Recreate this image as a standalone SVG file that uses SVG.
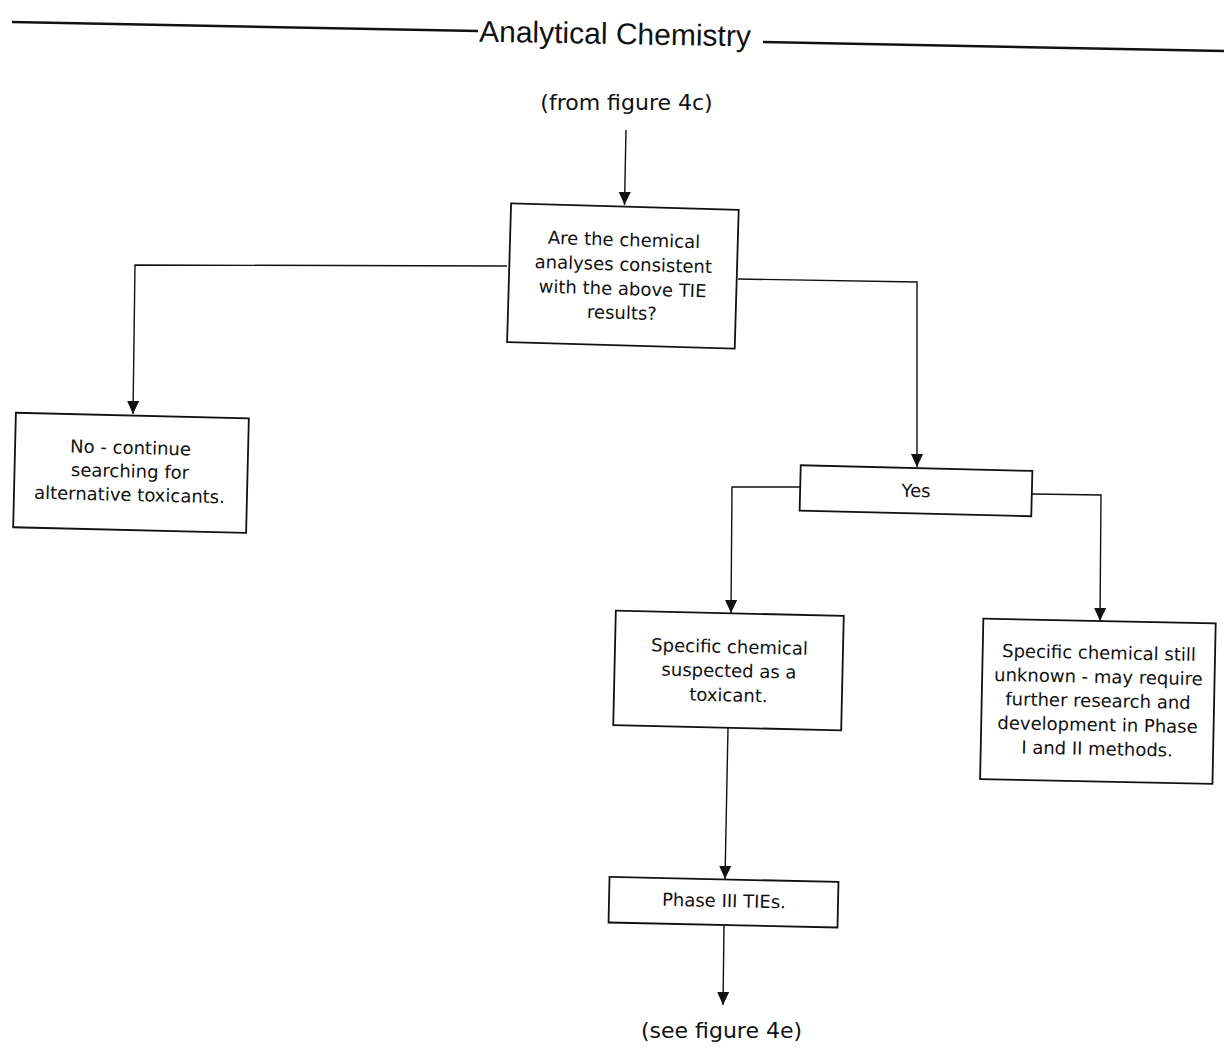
<svg xmlns="http://www.w3.org/2000/svg" width="1224" height="1057" viewBox="0 0 1224 1057">
  <style>
    .box { fill: #ffffff; stroke: #111111; stroke-width: 1.8; }
    .lbl { font-family: "DejaVu Sans", "Liberation Sans", sans-serif; font-size: 18px; fill: #111111; text-anchor: middle; }
    .ref { font-family: "DejaVu Sans", "Liberation Sans", sans-serif; font-size: 22px; fill: #111111; text-anchor: middle; }
    .conn { fill: none; stroke: #111111; stroke-width: 1.4; marker-end: url(#arrow); }
    .rule { stroke: #111111; stroke-width: 2.5; }
  </style>
  <defs>
    <marker id="arrow" markerUnits="userSpaceOnUse" markerWidth="13" markerHeight="15" refX="14" refY="6.5" orient="auto" viewBox="0 0 14 13">
      <path d="M0,0 L14,6.5 L0,13 z" fill="#111111"/>
    </marker>
  </defs>
  <rect width="1224" height="1057" fill="#ffffff"/>

  <g id="header">
    <line class="rule" x1="12" y1="22" x2="478" y2="31"/>
    <line class="rule" x1="763" y1="42" x2="1224" y2="51"/>
    <text x="615" y="44" transform="rotate(1 615 35)" font-family="Liberation Sans, Arial, sans-serif" font-size="30" fill="#111111" text-anchor="middle">Analytical Chemistry</text>
  </g>

  <g id="from-figure-4c">
    <text class="ref" x="626.5" y="110">(from figure 4c)</text>
  </g>

  <g id="connectors">
    <polyline class="conn" points="626,130 624.5,205"/>
    <polyline class="conn" points="507,266 135,265 133,414"/>
    <polyline class="conn" points="738,279 917,282 917,467"/>
    <polyline class="conn" points="800,487 732,487 731,613"/>
    <polyline class="conn" points="1032,494 1101,495 1100,621"/>
    <polyline class="conn" points="728,728 725,879"/>
    <polyline class="conn" points="724,925 723,1005"/>
  </g>

  <g id="question" transform="rotate(1.65 622.9 276)">
    <rect class="box" x="509.05" y="206.65" width="227.7" height="138.7"/>
    <text class="lbl" x="623" y="246">Are the chemical</text>
    <text class="lbl" x="623" y="270.5">analyses consistent</text>
    <text class="lbl" x="623" y="295">with the above TIE</text>
    <text class="lbl" x="623" y="319">results?</text>
  </g>

  <g id="no" transform="rotate(1.37 131 472.8)">
    <rect class="box" x="14.5" y="415.55" width="233" height="114.5"/>
    <text class="lbl" x="130" y="454">No - continue</text>
    <text class="lbl" x="130" y="477.5">searching for</text>
    <text class="lbl" x="130" y="501">alternative toxicants.</text>
  </g>

  <g id="yes" transform="rotate(1.4 916 490.75)">
    <rect class="box" x="800.15" y="468.1" width="231.7" height="45.3"/>
    <text class="lbl" x="916" y="497">Yes</text>
  </g>

  <g id="suspected" transform="rotate(1.3 728.5 670.5)">
    <rect class="box" x="614.5" y="613.25" width="228" height="114.5"/>
    <text class="lbl" x="729" y="653">Specific chemical</text>
    <text class="lbl" x="729" y="677">suspected as a</text>
    <text class="lbl" x="729" y="701.5">toxicant.</text>
  </g>

  <g id="unknown" transform="rotate(1.16 1097.9 701.25)">
    <rect class="box" x="981.7" y="620.95" width="232.4" height="160.6"/>
    <text class="lbl" x="1098" y="659">Specific chemical still</text>
    <text class="lbl" x="1098" y="683">unknown - may require</text>
    <text class="lbl" x="1098" y="707">further research and</text>
    <text class="lbl" x="1098" y="731">development in Phase</text>
    <text class="lbl" x="1098" y="755">I and II methods.</text>
  </g>

  <g id="phase3" transform="rotate(1.25 723.5 902.2)">
    <rect class="box" x="609" y="879.4" width="229" height="45.6"/>
    <text class="lbl" x="724" y="907">Phase III TIEs.</text>
  </g>

  <g id="see-figure-4e">
    <text class="ref" x="721.5" y="1038">(see figure 4e)</text>
  </g>
</svg>
